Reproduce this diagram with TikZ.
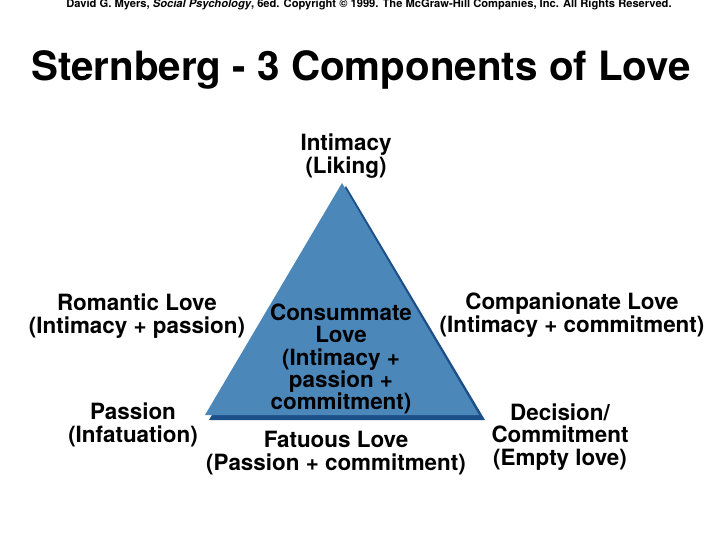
\documentclass[tikz,border=0pt]{standalone}
\usepackage{fontspec}
\setmainfont{TeX Gyre Heros}
\definecolor{triblue}{HTML}{4C87BA}
\definecolor{tridark}{HTML}{1D4F88}
\tikzset{
    label/.style={align=center,inner sep=0pt,font=\fontsize{22.5}{22.5}\selectfont\bfseries},
}
\begin{document}
\begin{tikzpicture}[x=1bp,y=-1bp]
        \useasboundingbox [fill=white] (0,0) rectangle (720,540);
        % heading
        \node [inner sep=0pt,font=\fontsize{11.2}{12}\selectfont\bfseries] (Source) at (369,5)
            {David G. Myers, \textit{Social Psychology}, 6ed. Copyright \textcopyright\ 1999. The McGraw-Hill Companies, Inc. All Rights Reserved.};
        \node [inner sep=0pt,font=\fontsize{40.5}{41}\selectfont\bfseries] (Title) at (361,70) {Sternberg - 3 Components of Love};
        % the triangle, with its shadow
        \fill [tridark] (346,186) -- (485,420) -- (209,420) -- cycle;
        \fill [triblue] (342,183) -- (479,415) -- (205,415) -- cycle;
        % corners
        \node [label] (Intimacy) at (346,156) {Intimacy\\(Liking)};
        \node [label] (Passion) at (133,425) {Passion\\(Infatuation)};
        \node [label] (Decision) at (560,437) {Decision/\\Commitment\\(Empty love)};
        % sides
        \node [label] (Romantic) at (137,316) {Romantic Love\\(Intimacy + passion)};
        \node [label] (Companionate) at (572,315) {Companionate Love\\(Intimacy + commitment)};
        \node [label] (Fatuous) at (336,453) {Fatuous Love\\(Passion + commitment)};
        % middle
        \node [label] (Consummate) at (341,359) {Consummate\\Love\\(Intimacy +\\passion +\\commitment)};
    \end{tikzpicture}
\end{document}
